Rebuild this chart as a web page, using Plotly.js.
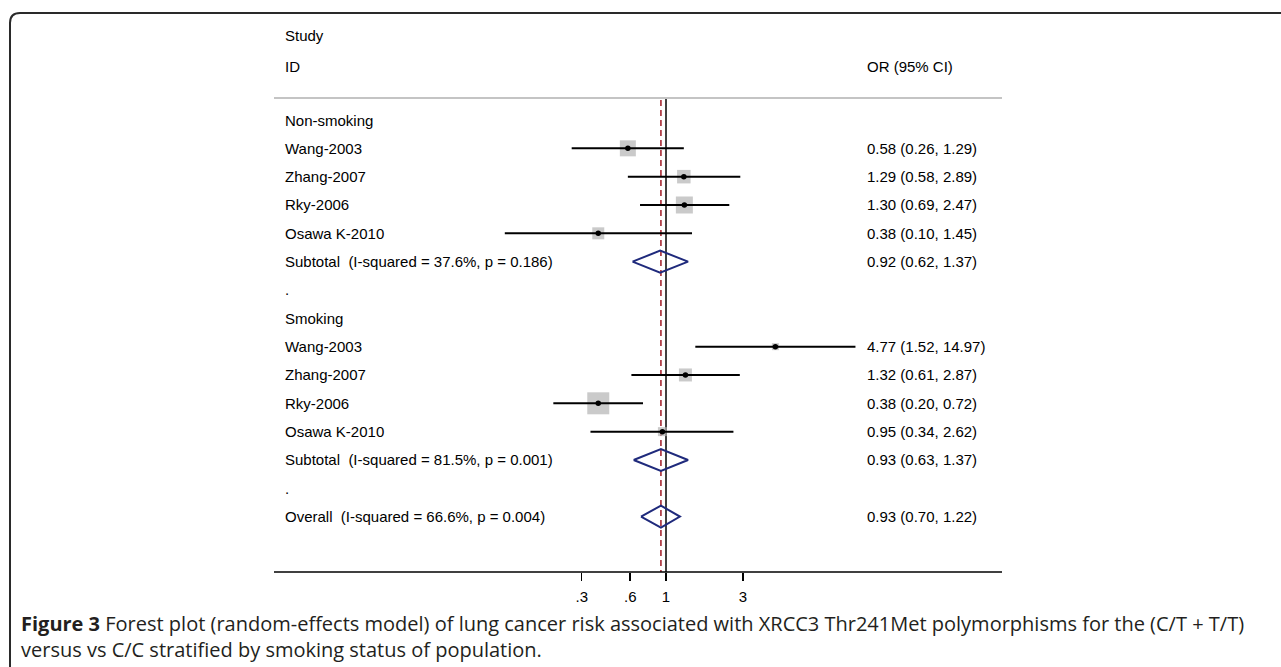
<!DOCTYPE html>
<html>
<head>
<meta charset="utf-8">
<script src="https://cdn.plot.ly/plotly-3.0.1.min.js"></script>
<style>html,body{margin:0;padding:0;background:#fff;}#chart{width:1281px;height:667px;}</style>
</head>
<body>
<div id="chart"></div>
<script>
// ---- data ----
var rowLabels = ["Non-smoking","Wang-2003","Zhang-2007","Rky-2006","Osawa K-2010",
  "Subtotal\u00a0 (I-squared = 37.6%, p = 0.186)",".","Smoking","Wang-2003","Zhang-2007",
  "Rky-2006","Osawa K-2010","Subtotal\u00a0 (I-squared = 81.5%, p = 0.001)",".",
  "Overall\u00a0 (I-squared = 66.6%, p = 0.004)"];
var studyRows = [1,2,3,4,8,9,10,11];
var studyOR   = [0.58,1.29,1.30,0.38,4.77,1.32,0.38,0.95];
var studyLo   = [0.26,0.58,0.69,0.10,1.52,0.61,0.20,0.34];
var studyHi   = [1.29,2.89,2.47,1.45,14.97,2.87,0.72,2.62];
var studyWeight = [16,13.5,17,12,7,13,22,9];   // relative box size
var pooledRows = [5,12,14];
var pooledOR   = [0.92,0.93,0.93];
var pooledLo   = [0.62,0.63,0.70];
var pooledHi   = [1.37,1.37,1.22];
var tickVals = [0.3,0.6,1,3];
var tickText = [".3",".6","1","3"];
var caption1 = "<b>Figure 3</b> Forest plot (random-effects model) of lung cancer risk associated with XRCC3 Thr241Met polymorphisms for the (C/T + T/T)";
var caption2 = "versus vs C/C stratified by smoking status of population.";

// ---- geometry ----
var W = 1281, H = 667;
var ZERO_PX = 666, PX_PER_DEC = 161.2;
var ROW0_PX = 120, ROW_PX = 28.33;
function pxToRow(py){ return (py - ROW0_PX) / ROW_PX; }
function px(x){ return x / W; }
function py(y){ return 1 - y / H; }
var FONT = "Liberation Sans, Arial, sans-serif";
var FS = 15;

var traces = [];
// vertical line at OR = 1
traces.push({x:[1,1], y:[pxToRow(98), pxToRow(572)], mode:"lines",
  line:{color:"#000", width:1.5}, hoverinfo:"skip"});
// overall dashed line
traces.push({x:[pooledOR[2],pooledOR[2]], y:[pxToRow(100), pxToRow(572)], mode:"lines",
  line:{color:"#b0404a", width:1.8, dash:"6px,4px"}, hoverinfo:"skip"});
// CI lines
var cx = [], cy = [];
for (var i=0;i<studyRows.length;i++){
  cx.push(studyLo[i], studyHi[i], null);
  cy.push(studyRows[i], studyRows[i], null);
}
// boxes
traces.push({x:studyOR, y:studyRows, mode:"markers",
  marker:{symbol:"square", size:studyWeight, color:"#b4b4b4", line:{width:0}}, hoverinfo:"skip"});
traces.push({x:cx, y:cy, mode:"lines", line:{color:"#000", width:2}, hoverinfo:"skip"});
traces.push({x:studyOR, y:studyRows, mode:"markers",
  marker:{symbol:"circle", size:5.5, color:"#000"}, hoverinfo:"skip"});
// diamonds
var DH = 11 / ROW_PX;
for (var j=0;j<pooledRows.length;j++){
  var r = pooledRows[j];
  traces.push({x:[pooledLo[j], pooledOR[j], pooledHi[j], pooledOR[j], pooledLo[j]],
    y:[r, r-DH, r, r+DH, r], mode:"lines",
    line:{color:"#1f2a7c", width:2}, hoverinfo:"skip"});
}

function fmt(o,l,h){ return o.toFixed(2)+" ("+l.toFixed(2)+", "+h.toFixed(2)+")"; }

var ann = [];
ann.push({xref:"paper", yref:"paper", x:px(283), y:py(36), xanchor:"left", yanchor:"middle",
  text:"Study", showarrow:false, font:{family:FONT, size:FS, color:"#000"}});
ann.push({xref:"paper", yref:"paper", x:px(283), y:py(66), xanchor:"left", yanchor:"middle",
  text:"ID", showarrow:false, font:{family:FONT, size:FS, color:"#000"}});
ann.push({xref:"paper", yref:"paper", x:px(865), y:py(66), xanchor:"left", yanchor:"middle",
  text:"OR (95% CI)", showarrow:false, font:{family:FONT, size:FS, color:"#000"}});
for (var k=0;k<rowLabels.length;k++){
  ann.push({xref:"paper", yref:"y", x:px(283), y:k, xanchor:"left", yanchor:"middle",
    text:rowLabels[k], showarrow:false, font:{family:FONT, size:FS, color:"#000"}});
}
for (var i2=0;i2<studyRows.length;i2++){
  ann.push({xref:"paper", yref:"y", x:px(865), y:studyRows[i2], xanchor:"left", yanchor:"middle",
    text:fmt(studyOR[i2],studyLo[i2],studyHi[i2]), showarrow:false, font:{family:FONT, size:FS, color:"#000"}});
}
for (var j2=0;j2<pooledRows.length;j2++){
  ann.push({xref:"paper", yref:"y", x:px(865), y:pooledRows[j2], xanchor:"left", yanchor:"middle",
    text:fmt(pooledOR[j2],pooledLo[j2],pooledHi[j2]), showarrow:false, font:{family:FONT, size:FS, color:"#000"}});
}
ann.push({xref:"paper", yref:"paper", x:px(19), y:py(636), xanchor:"left", yanchor:"middle", align:"left",
  text:caption1 + "<br>" + caption2, showarrow:false,
  font:{family:"Open Sans, Noto Sans, sans-serif", size:20, color:"#231f20"}});

var shapes = [
  {type:"line", xref:"paper", yref:"paper", x0:px(274), x1:px(1002), y0:py(98), y1:py(98),
    line:{color:"#c4c4c4", width:2}},
  {type:"line", xref:"paper", yref:"paper", x0:px(274), x1:px(1002), y0:py(572), y1:py(572),
    line:{color:"#000", width:1.5}},
  {type:"path", xref:"paper", yref:"paper",
    path:"M "+px(10)+","+py(667)+" L "+px(10)+","+py(23)+" Q "+px(10)+","+py(13)+" "+px(20)+","+py(13)+" L 1,"+py(13),
    line:{color:"#2a2a2a", width:2}}
];

var layout = {
  width:W, height:H, margin:{l:0,r:0,t:0,b:0}, showlegend:false,
  paper_bgcolor:"#fff", plot_bgcolor:"rgba(0,0,0,0)",
  xaxis:{type:"log", range:[(0-ZERO_PX)/PX_PER_DEC, (W-ZERO_PX)/PX_PER_DEC],
    anchor:"free", position:1-572/H, showgrid:false, zeroline:false, showline:false,
    tickmode:"array", tickvals:tickVals, ticktext:tickText, ticks:"outside", ticklen:8,
    tickwidth:1.5, tickcolor:"#000", ticklabelstandoff:3,
    tickfont:{family:FONT, size:FS, color:"#000"}, fixedrange:true},
  yaxis:{range:[pxToRow(H), pxToRow(0)], visible:false, showgrid:false, zeroline:false, fixedrange:true},
  annotations:ann, shapes:shapes
};
Plotly.newPlot("chart", traces, layout, {displayModeBar:false, staticPlot:true});
</script>
</body>
</html>
